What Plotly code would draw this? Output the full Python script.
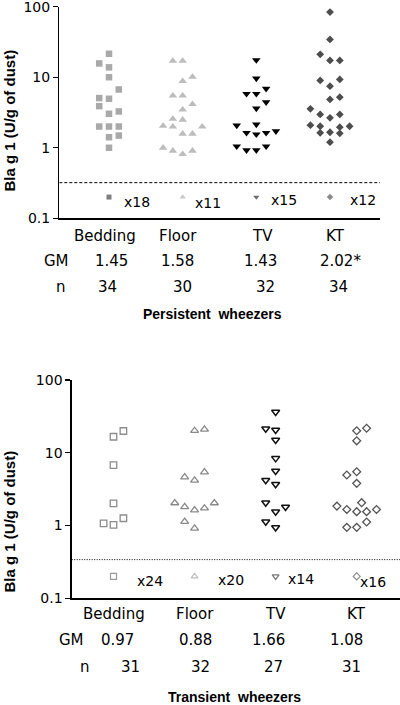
import math
import plotly.graph_objects as go

W, H = 400, 705

categories = ["Bedding", "Floor", "TV", "KT"]

# ---------------- Persistent wheezers (top panel) ----------------
p_bedding = [21.5, 15.7, 13.8, 10.0, 6.7, 5.06, 4.95, 3.89, 3.27, 3.03, 2.0, 2.0, 2.0, 1.49, 1.41, 1.0]
p_bedding_col = [0, -1, 0, 0, 1, -1, 0, -1, 1, 0, -1, 0, 1, 1, 0, 0]
p_floor = [17.0, 17.0, 10.1, 8.8, 5.47, 5.47, 4.15, 3.46, 2.56, 2.49, 2.04, 1.99, 1.99, 1.58, 1.58, 1.0, 0.906, 0.81, 0.906]
p_floor_col = [-1, 0, 1, 0, -1, 0, 1, 0, -1, 0, -2, -1, 2, 0, 1, -2, -1, 0, 1]
p_tv = [17.5, 9.6, 6.87, 5.83, 5.83, 4.43, 3.61, 2.14, 2.07, 1.72, 1.63, 1.63, 1.55, 1.05, 1.05, 0.925, 0.925]
p_tv_col = [0, 0, 1, -1, 0, 1, 0, 0, -2, 2, -1, 1, 0, -2, 1, -1, 0]
p_kt = [83.8, 34.4, 21.1, 17.3, 17.3, 9.31, 9.01, 7.48, 5.22, 4.84, 3.57, 2.97, 2.97, 2.66,
        2.09, 2.02, 2.02, 1.96, 1.63, 1.66, 1.60, 1.20]
p_kt_col = [0, 0, -1, 0, 1, 1, -1, 0, 1, 0, -2, -1, 1, 0, -2, -1, 2, 1, -1, 0, 1, 0]
p_below = [18, 11, 15, 12]
p_gm = ["1.45", "1.58", "1.43", "2.02*"]
p_n = ["34", "30", "32", "34"]
p_limit = 0.32

# ---------------- Transient wheezers (bottom panel) ----------------
t_bedding = [19.9, 16.6, 6.78, 2.02, 1.26, 1.07, 1.02]
t_bedding_col = [1, 0, 0, 0, 1, -1, 0]
t_floor = [21.0, 20.1, 5.43, 4.64, 4.18, 2.04, 1.81, 1.63, 1.73, 2.04, 1.13, 0.915]
t_floor_col = [1, 0, 1, -1, 0, -2, -1, 0, 1, 2, -1, 0]
t_tv = [36.3, 21.4, 20.5, 15.0, 8.38, 5.61, 4.18, 3.70, 2.06, 1.80, 1.55, 1.13, 0.94]
t_tv_col = [0, -1, 0, 0, 0, 0, -1, 0, -1, 1, 0, -1, 0]
t_kt = [21.7, 20.1, 14.6, 5.49, 4.94, 3.80, 2.06, 1.85, 1.66, 1.55, 1.55, 1.66, 1.12, 0.944, 0.944]
t_kt_col = [1, 0, 0, 0, -1, 0, 0.5, -2, -1, 0, 1, 2, 1, -1, 0]
t_below = [24, 20, 14, 16]
t_gm = ["0.97", "0.88", "1.66", "1.08"]
t_n = ["31", "32", "27", "31"]
t_limit = 0.34

below_value = 0.2  # plotted position of the undetectable samples

# ---------------- layout geometry (pixels) ----------------
FONT = "DejaVu Sans"
BOLD = "Liberation Sans"

panels = {
    "top": dict(xa="x", ya="y", left=59.3, right=380, top=6.7, bottom=218.3,
                c1=109.0, c4=330.0, colpx=9.8),
    "bot": dict(xa="x2", ya="y2", left=71.7, right=400, top=380.0, bottom=598.3,
                c1=113.5, c4=356.7, colpx=9.9),
}
for p in panels.values():
    b = (p["c4"] - p["c1"]) / 3.0
    a = p["c1"] - b
    p["range"] = [(p["left"] - a) / b, (p["right"] - a) / b]
    p["dx"] = p["colpx"] / b

fig = go.Figure()

def add_group(panel, cat_idx, vals, cols, symbol, size, color, lw=0):
    p = panels[panel]
    xs = [cat_idx + 1 + c * p["dx"] for c in cols]
    marker = dict(symbol=symbol, size=size, color=color, line=dict(width=lw, color=color))
    fig.add_trace(go.Scatter(x=xs, y=vals, mode="markers", marker=marker,
                             xaxis=p["xa"], yaxis=p["ya"], showlegend=False,
                             hoverinfo="skip", cliponaxis=False))

# top panel
add_group("top", 0, p_bedding, p_bedding_col, "square", 6.5, "#a9a9a9")
add_group("top", 1, p_floor, p_floor_col, "triangle-up", 7.5, "#bdbdbd")
add_group("top", 2, p_tv, p_tv_col, "triangle-down", 7.5, "#000000")
add_group("top", 3, p_kt, p_kt_col, "diamond", 6, "#4d4d4d")
add_group("top", 0, [below_value], [0], "square", 5, "#7f7f7f")
add_group("top", 1, [below_value], [0], "triangle-up", 5.5, "#c9c9c9")
add_group("top", 2, [below_value], [0], "triangle-down", 5.5, "#6e6e6e")
add_group("top", 3, [below_value], [0], "diamond", 5, "#8a8a8a")

# bottom panel
add_group("bot", 0, t_bedding, t_bedding_col, "square-open", 6.5, "#8c8c8c", lw=1.3)
add_group("bot", 1, t_floor, t_floor_col, "triangle-up-open", 7, "#8a8a8a", lw=1.3)
add_group("bot", 2, t_tv, t_tv_col, "triangle-down-open", 7, "#111111", lw=1.5)
add_group("bot", 3, t_kt, t_kt_col, "diamond-open", 6, "#555555", lw=1.3)
add_group("bot", 0, [below_value], [0], "square-open", 6, "#9a9a9a", lw=1.2)
add_group("bot", 1, [below_value], [0], "triangle-up-open", 6, "#bdbdbd", lw=1.1)
add_group("bot", 2, [below_value], [0], "triangle-down-open", 6, "#777777", lw=1.2)
add_group("bot", 3, [below_value], [0], "diamond-open", 5.5, "#8a8a8a", lw=1.1)

# detection limit lines
fig.add_trace(go.Scatter(x=panels["top"]["range"], y=[p_limit, p_limit], mode="lines",
                         line=dict(color="black", width=1, dash="3px,2px"),
                         xaxis="x", yaxis="y", showlegend=False, hoverinfo="skip"))
fig.add_trace(go.Scatter(x=panels["bot"]["range"], y=[t_limit, t_limit], mode="lines",
                         line=dict(color="black", width=1, dash="1px,1.5px"),
                         xaxis="x2", yaxis="y2", showlegend=False, hoverinfo="skip"))

ann = []

def txt(panel, x, ypx, text, size=15, xshift=0, xanchor="center", family=FONT, bold=False):
    p = panels[panel]
    if bold:
        text = "<b>" + text + "</b>"
    ann.append(dict(x=x, xref=p["xa"], y=1 - ypx / H, yref="paper", text=text,
                    showarrow=False, xanchor=xanchor, yanchor="middle", xshift=xshift,
                    font=dict(family=family, size=size, color="black")))

def paper_txt(xpx, ypx, text, size=15, family=FONT, bold=False, angle=0):
    if bold:
        text = "<b>" + text + "</b>"
    ann.append(dict(x=xpx / W, xref="paper", y=1 - ypx / H, yref="paper", text=text,
                    showarrow=False, xanchor="center", yanchor="middle", textangle=angle,
                    font=dict(family=family, size=size, color="black")))

# top text
top_lab_shift = [-4, -5, 6, 5]
top_gm_shift = [2, -5, 4, 10]
top_n_shift = [-2, 0, 9, 8]
for i in range(4):
    txt("top", i + 1, 236, categories[i], xshift=top_lab_shift[i])
    txt("top", i + 1, 261, p_gm[i], xshift=top_gm_shift[i])
    txt("top", i + 1, 287, p_n[i], xshift=top_n_shift[i])
    ann.append(dict(x=i + 1, xref="x", y=math.log10(below_value), yref="y",
                    text="x%d" % p_below[i], showarrow=False, xanchor="left",
                    yanchor="middle", xshift=[13, 10, 13, 18][i], yshift=[-5, -6, -3, -3][i],
                    font=dict(family=FONT, size=14, color="black")))
paper_txt(56, 261, "GM")
paper_txt(61, 287, "n")
paper_txt(212, 314, "Persistent&nbsp; wheezers", size=14, family=BOLD, bold=True)
paper_txt(8.5, 121, "Bla g 1 (U/g of dust)", size=15, family=BOLD, bold=True, angle=-90)

# bottom text
bot_gm_shift = [4, 1, -7, -10]
bot_n_shift = [17, 6, -2, -5]
for i in range(4):
    txt("bot", i + 1, 614, categories[i])
    txt("bot", i + 1, 640, t_gm[i], xshift=bot_gm_shift[i])
    txt("bot", i + 1, 667, t_n[i], xshift=bot_n_shift[i])
    ann.append(dict(x=i + 1, xref="x2", y=math.log10(below_value), yref="y2",
                    text="x%d" % t_below[i], showarrow=False, xanchor="left",
                    yanchor="middle", xshift=[21, 21, 10, 1][i], yshift=[-5, -4, -3, -6][i],
                    font=dict(family=FONT, size=14, color="black")))
paper_txt(71, 640, "GM")
paper_txt(85, 667, "n")
paper_txt(234, 697, "Transient&nbsp; wheezers", size=14, family=BOLD, bold=True)
paper_txt(8.5, 522, "Bla g 1 (U/g of dust)", size=15, family=BOLD, bold=True, angle=-90)

yticks = [0.1, 1, 10, 100]
ytext = ["0.1", "1", "10", "100"]

def yax(p):
    return dict(type="log", range=[-1, 2], domain=[1 - p["bottom"] / H, 1 - p["top"] / H],
                tickvals=yticks, ticktext=ytext, ticks="outside", ticklen=5, tickwidth=1.3,
                tickcolor="black", showline=True, linecolor="black", linewidth=1.3,
                showgrid=False, zeroline=False, tickfont=dict(family=FONT, size=14, color="black"),
                anchor=p["xa"], fixedrange=True, automargin=False, ticklabeloverflow="allow")

def xax(p):
    return dict(range=p["range"], domain=[p["left"] / W, p["right"] / W], showline=True,
                linecolor="black", linewidth=1.3, showticklabels=False, ticks="",
                showgrid=False, zeroline=False, anchor=p["ya"], fixedrange=True,
                automargin=False)

fig.update_layout(
    template="none",
    width=W, height=H, margin=dict(l=0, r=0, t=0, b=0, pad=0, autoexpand=False),
    paper_bgcolor="white", plot_bgcolor="white",
    xaxis=xax(panels["top"]), yaxis=yax(panels["top"]),
    xaxis2=xax(panels["bot"]), yaxis2=yax(panels["bot"]),
    annotations=ann, showlegend=False,
)

fig.write_html("out.html", config={"staticPlot": True},
               post_script="document.body.style.margin='0';document.body.style.overflow='hidden';")
